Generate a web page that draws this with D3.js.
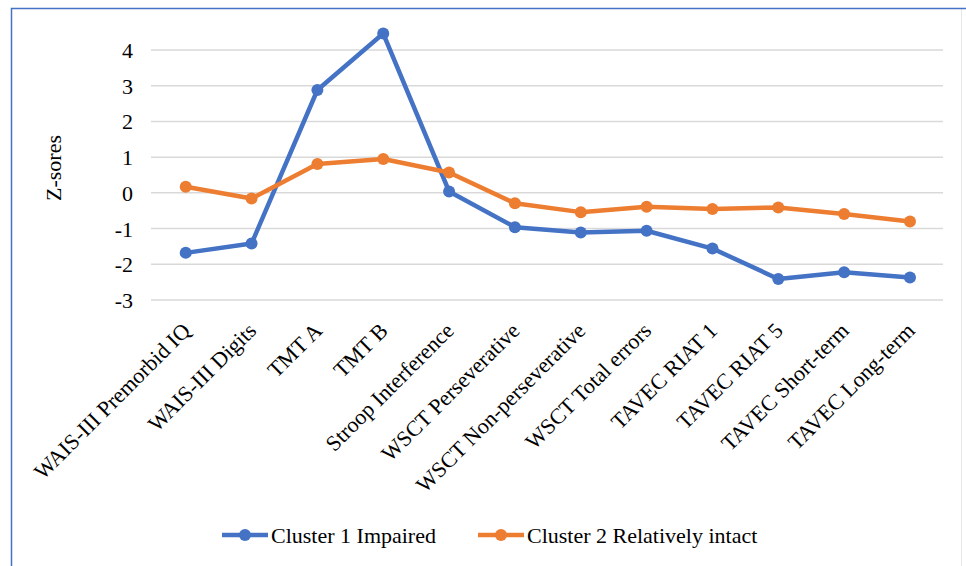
<!DOCTYPE html>
<html>
<head>
<meta charset="utf-8">
<script src="https://cdn.jsdelivr.net/npm/d3@7/dist/d3.min.js"></script>
<style>
  html, body { margin: 0; padding: 0; background: #fff; }
  svg { display: block; font-family: "Liberation Serif", "Times New Roman", serif; }
</style>
</head>
<body>
<svg id="chart" width="966" height="566"></svg>
<script>
// Neuropsychological test categories
const categories = [
  "WAIS-III Premorbid IQ",
  "WAIS-III Digits",
  "TMT A",
  "TMT B",
  "Stroop Interference",
  "WSCT Perseverative",
  "WSCT Non-perseverative",
  "WSCT Total errors",
  "TAVEC RIAT 1",
  "TAVEC RIAT 5",
  "TAVEC Short-term",
  "TAVEC Long-term"
];

// Mean z-scores per cluster
const cluster1 = [-1.68, -1.42, 2.88, 4.46, 0.04, -0.96, -1.11, -1.06, -1.56, -2.41, -2.22, -2.37];
const cluster2 = [0.17, -0.16, 0.81, 0.95, 0.57, -0.29, -0.54, -0.39, -0.45, -0.41, -0.59, -0.80];

const seriesNames = ["Cluster 1 Impaired", "Cluster 2 Relatively intact"];
const seriesColors = ["#4472C4", "#ED7D31"];
const yTicks = [-3, -2, -1, 0, 1, 2, 3, 4];

const FONT = 22;
const svg = d3.select("#chart");

// Chart frame
svg.append("rect")
  .attr("x", 11.5).attr("y", 8.5)
  .attr("width", 950).attr("height", 570)
  .attr("fill", "#fff")
  .attr("stroke", "#e6e6e6").attr("stroke-width", 1);
svg.append("path")
  .attr("d", "M11.5,570 V8.5 H966")
  .attr("fill", "none")
  .attr("stroke", "#4472C4").attr("stroke-width", 1.5);

const x = d3.scaleBand().domain(categories).range([152.8, 942.9]);
const y = d3.scaleLinear().domain([-3, 4]).range([300, 50]);

// Horizontal gridlines
svg.append("g").selectAll("line")
  .data(yTicks).join("line")
  .attr("x1", 151).attr("x2", 943)
  .attr("y1", d => y(d)).attr("y2", d => y(d))
  .attr("stroke", "#d9d9d9").attr("stroke-width", 1.5);

// Y axis labels (plain hyphen for negatives)
const yAxis = d3.axisLeft(y).tickValues(yTicks).tickSize(0).tickPadding(0)
  .tickFormat(d => String(d));
const gy = svg.append("g").attr("transform", "translate(133,0)").call(yAxis);
gy.select(".domain").remove();
gy.selectAll("text")
  .attr("font-family", "Liberation Serif")
  .attr("font-size", FONT).attr("fill", "#000")
  .attr("dy", "0.34em");

svg.append("text")
  .attr("transform", "translate(61,168) rotate(-90)")
  .attr("text-anchor", "middle")
  .attr("font-size", FONT).attr("fill", "#000")
  .text("Z-sores");

// X axis category labels, rotated
const xAxis = d3.axisBottom(x).tickSize(0).tickPadding(0);
const gx = svg.append("g").attr("transform", "translate(0,300)").call(xAxis);
gx.select(".domain").remove();
gx.selectAll("text")
  .attr("font-family", "Liberation Serif")
  .attr("font-size", FONT).attr("fill", "#000")
  .attr("text-anchor", "end")
  .attr("dy", null).attr("y", null)
  .attr("transform", "translate(6,32) rotate(-45)");

// Series lines and markers
const series = [cluster1, cluster2];
const line = d3.line()
  .x((d, i) => x(categories[i]) + x.bandwidth() / 2)
  .y(d => y(d));

series.forEach((vals, s) => {
  const g = svg.append("g");
  g.append("path")
    .datum(vals)
    .attr("d", line)
    .attr("fill", "none")
    .attr("stroke", seriesColors[s])
    .attr("stroke-width", 4.5)
    .attr("stroke-linejoin", "round");
  g.selectAll("circle")
    .data(vals).join("circle")
    .attr("cx", (d, i) => x(categories[i]) + x.bandwidth() / 2)
    .attr("cy", d => y(d))
    .attr("r", 6)
    .attr("fill", seriesColors[s]);
});

// Legend
const legendX = [222, 478];
const legend = svg.append("g");
seriesNames.forEach((name, s) => {
  const lg = legend.append("g").attr("transform", `translate(${legendX[s]},535)`);
  lg.append("line").attr("x1", 0).attr("x2", 46).attr("y1", 0).attr("y2", 0)
    .attr("stroke", seriesColors[s]).attr("stroke-width", 4.5);
  lg.append("circle").attr("cx", 23).attr("cy", 0).attr("r", 6).attr("fill", seriesColors[s]);
  lg.append("text").attr("x", 49).attr("y", 7.5)
    .attr("font-size", FONT).attr("fill", "#000")
    .text(name);
});
</script>
</body>
</html>
